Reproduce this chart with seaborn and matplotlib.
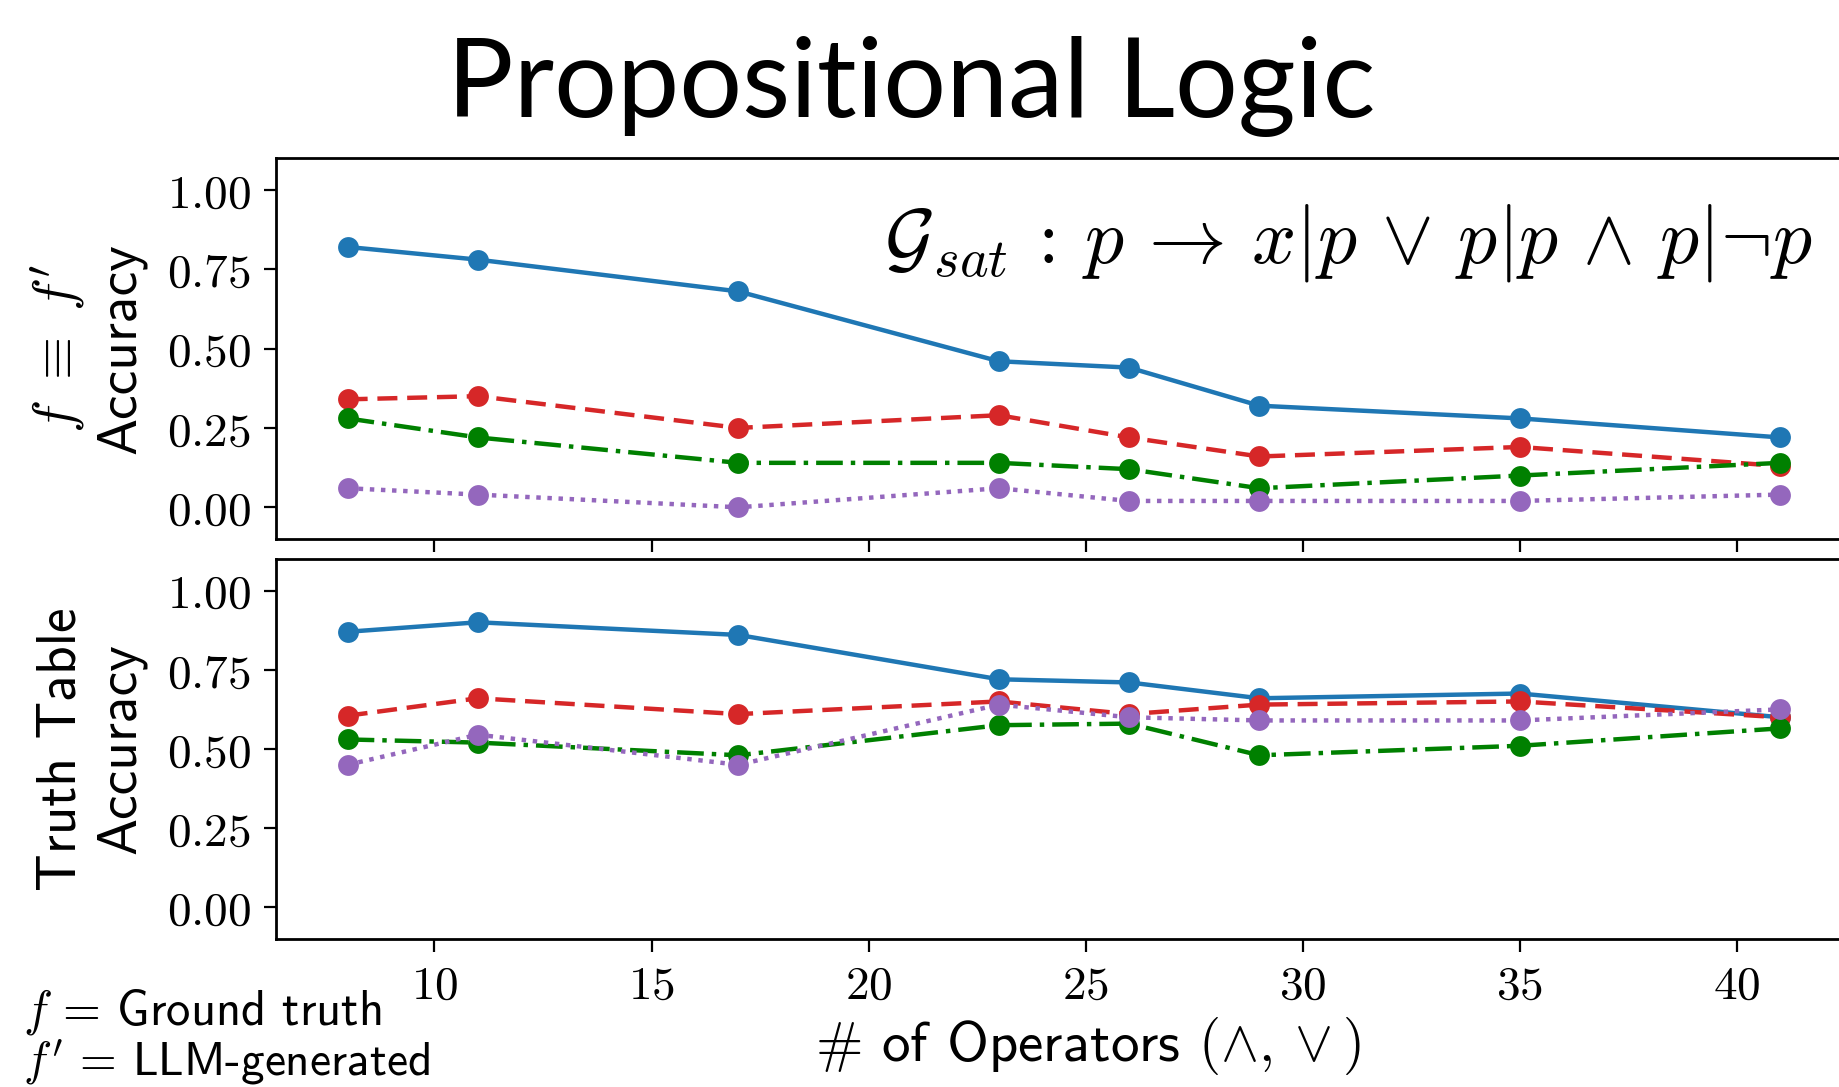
import numpy as np
import pandas as pd
import seaborn as sns
import matplotlib.pyplot as plt

sns.set_style("ticks", {"axes.edgecolor": "black", "text.color": "black",
                        "xtick.color": "black", "ytick.color": "black",
                        "axes.labelcolor": "black"})
plt.rcParams["mathtext.fontset"] = "cm"

# number of operators (x axis)
operators = [8, 11, 17, 23, 26, 29, 35, 41]

# top panel: f == f' accuracy
equiv_blue = [0.82, 0.78, 0.68, 0.46, 0.44, 0.32, 0.28, 0.22]
equiv_red = [0.34, 0.35, 0.25, 0.29, 0.22, 0.16, 0.19, 0.13]
equiv_green = [0.28, 0.22, 0.14, 0.14, 0.12, 0.06, 0.10, 0.14]
equiv_purple = [0.06, 0.04, 0.00, 0.06, 0.02, 0.02, 0.02, 0.04]

# bottom panel: truth table accuracy
truth_blue = [0.87, 0.90, 0.86, 0.72, 0.71, 0.66, 0.675, 0.60]
truth_red = [0.605, 0.66, 0.61, 0.65, 0.61, 0.64, 0.65, 0.60]
truth_green = [0.53, 0.52, 0.48, 0.575, 0.58, 0.48, 0.51, 0.565]
truth_purple = [0.45, 0.545, 0.45, 0.64, 0.60, 0.59, 0.59, 0.625]

y_ticks = [0.0, 0.25, 0.5, 0.75, 1.0]
y_tick_labels = ["0.00", "0.25", "0.50", "0.75", "1.00"]
x_ticks = [10, 15, 20, 25, 30, 35, 40]

colors = ["#1f77b4", "#d62728", "green", "#9467bd"]
styles = ["-", (0, (4.5, 2.2)), (0, (6, 1.8, 1, 1.8)), (0, (1, 1.5))]

fig = plt.figure(figsize=(18.4, 10.87), dpi=100)
ax1 = fig.add_axes([0.150, 0.5041, 0.8565, 0.3505])
ax2 = fig.add_axes([0.150, 0.1362, 0.8565, 0.3496])

panels = [
    (ax1, [equiv_blue, equiv_red, equiv_green, equiv_purple]),
    (ax2, [truth_blue, truth_red, truth_green, truth_purple]),
]

for ax, series in panels:
    for vals, c, ls in zip(series, colors, styles):
        sns.lineplot(x=operators, y=vals, ax=ax, color=c, linestyle=ls,
                     marker="o", markersize=15, markeredgewidth=0,
                     linewidth=3.2)
    ax.set_ylim(-0.1, 1.1)
    ax.set_xlim(6.35, 42.65)
    ax.set_yticks(y_ticks)
    ax.set_yticklabels(["$" + t + "$" for t in y_tick_labels])
    ax.set_xticks(x_ticks)
    ax.tick_params(axis="both", length=9, width=1.6, pad=9, labelsize=34)
    for s in ax.spines.values():
        s.set_linewidth(2.0)

ax1.set_xticklabels([])
ax2.set_xticklabels(["$%d$" % t for t in x_ticks])

ax1.set_ylabel(r"$f\ \equiv\ f'$" + "\nAccuracy", fontsize=40,
               family="cmss10", linespacing=1.25)
ax2.set_ylabel("Truth Table\nAccuracy", fontsize=40, family="cmss10",
               linespacing=1.25)
ax1.yaxis.set_label_coords(-0.082, 0.5)
ax2.yaxis.set_label_coords(-0.082, 0.5)

ax2.set_xlabel(r"# of Operators $(\wedge, \vee)$", fontsize=41,
               family="cmss10", labelpad=10)
ax2.xaxis.set_label_coords(0.515, -0.20)

fig.text(0.495, 0.892, "Propositional Logic", fontsize=80, family="Lato",
         ha="center", va="baseline")
fig.text(0.985, 0.776,
         r"$\mathcal{G}_{sat}\,:\,p\,\rightarrow\,x|p\,\vee\,p|p\,\wedge\,p|\neg p$",
         fontsize=56, ha="right", va="center")

fig.text(0.0125, 0.069, r"$f$ = Ground truth", fontsize=35,
         family="cmss10", va="center")
fig.text(0.0125, 0.023, r"$f'$ = LLM-generated", fontsize=34,
         family="cmss10", va="center")

fig.savefig("out.png", dpi=100)
